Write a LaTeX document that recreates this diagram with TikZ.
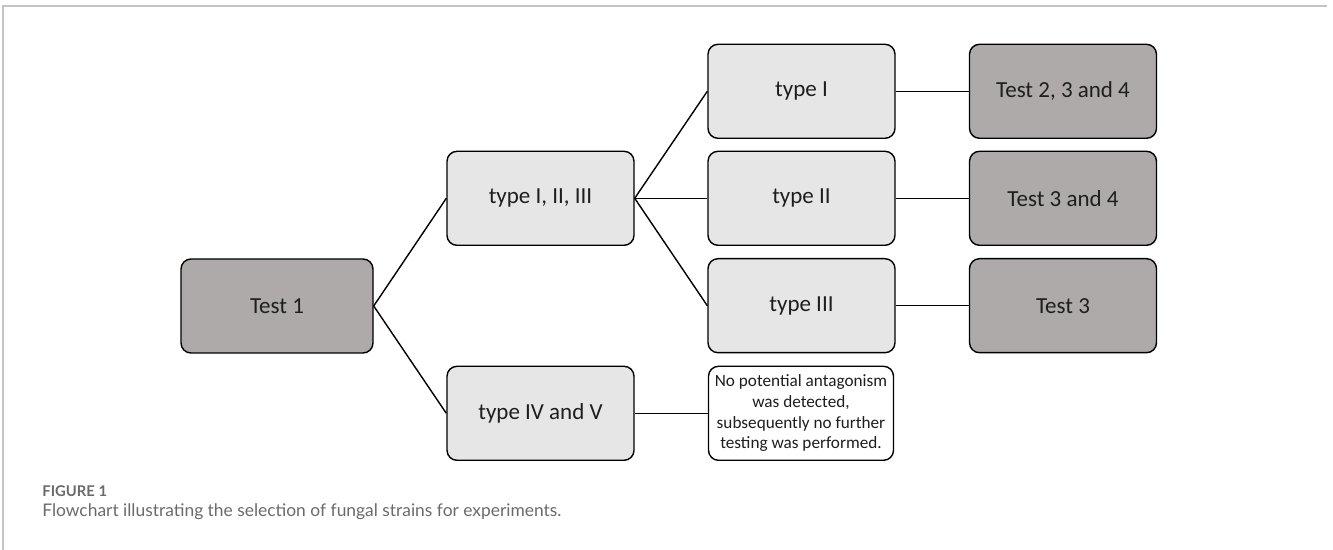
\documentclass[tikz,border=0pt]{standalone}
\usepackage{fontspec}
\setmainfont{Carlito}
\newfontfamily\captionfont{Lato}
\usepackage{xcolor}
\definecolor{boxlight}{HTML}{E7E6E6}
\definecolor{boxdark}{HTML}{AEAAAA}
\definecolor{framegray}{HTML}{C3C3C3}
\definecolor{captiongray}{HTML}{6A6A6A}
\definecolor{boxtext}{HTML}{1E1E1E}
\usetikzlibrary{positioning}

\begin{document}
\begin{tikzpicture}[x=0.5pt, y=-0.5pt,
  typebox/.style={draw=black, line width=0.7pt, rounded corners=5pt, fill=boxlight,
    minimum width=93.5pt, minimum height=47pt, inner sep=0pt, text=boxtext,
    font=\fontsize{11.5}{13}\selectfont},
  testbox/.style={typebox, fill=boxdark},
  notebox/.style={typebox, fill=white, align=center, minimum width=92.5pt,
    font=\fontsize{8.6}{10.3}\selectfont},
  link/.style={draw=black, line width=0.7pt}]
  \useasboundingbox (0,0) rectangle (1333,550);

  % Page frame
  \draw[framegray, line width=1pt] (3,550) -- (3,6.5) -- (1327,6.5);

  % First test
  \node[testbox, minimum width=96pt] (test1) at (277,306) {Test 1};

  % Type groups
  \node[typebox] (typeAll) at (540.5,198.3) {type I, II, III};
  \node[typebox] (typeRest) at (540.5,413.3) {type IV and V};

  % Single types
  \node[typebox] (typeOne) at (801.5,91.3) {type I};
  \node[typebox] (typeTwo) at (801.5,198.3) {type II};
  \node[typebox] (typeThree) at (801.5,305.7) {type III};
  \node[notebox] (noTest) at (801,413.3)
       {No potential antagonism\\was detected,\\subsequently no further\\testing was performed.};

  % Further tests
  \node[testbox] (testOne) at (1063,91.3) {Test 2, 3 and 4};
  \node[testbox] (testTwo) at (1063,198.3) {Test 3 and 4};
  \node[testbox] (testThree) at (1063,305.7) {Test 3};

  % Connectors
  \draw[link] (test1.east) -- (typeAll.west);
  \draw[link] (test1.east) -- (typeRest.west);
  \draw[link] (typeAll.east) -- (typeOne.west);
  \draw[link] (typeAll.east) -- (typeTwo.west);
  \draw[link] (typeAll.east) -- (typeThree.west);
  \draw[link] (typeRest.east) -- (noTest.west);
  \draw[link] (typeOne.east) -- (testOne.west);
  \draw[link] (typeTwo.east) -- (testTwo.west);
  \draw[link] (typeThree.east) -- (testThree.west);

  % Caption
  \node[anchor=base west, inner sep=0pt, text=captiongray,
        font=\captionfont\bfseries\fontsize{7.4}{8}\selectfont] (figLabel) at (42,496) {FIGURE 1};
  \node[anchor=base west, inner sep=0pt, text=captiongray,
        font=\captionfont\fontsize{8.7}{10}\selectfont] (figCaption) at (42,516.7)
       {Flowchart illustrating the selection of fungal strains for experiments.};
\end{tikzpicture}
\end{document}
